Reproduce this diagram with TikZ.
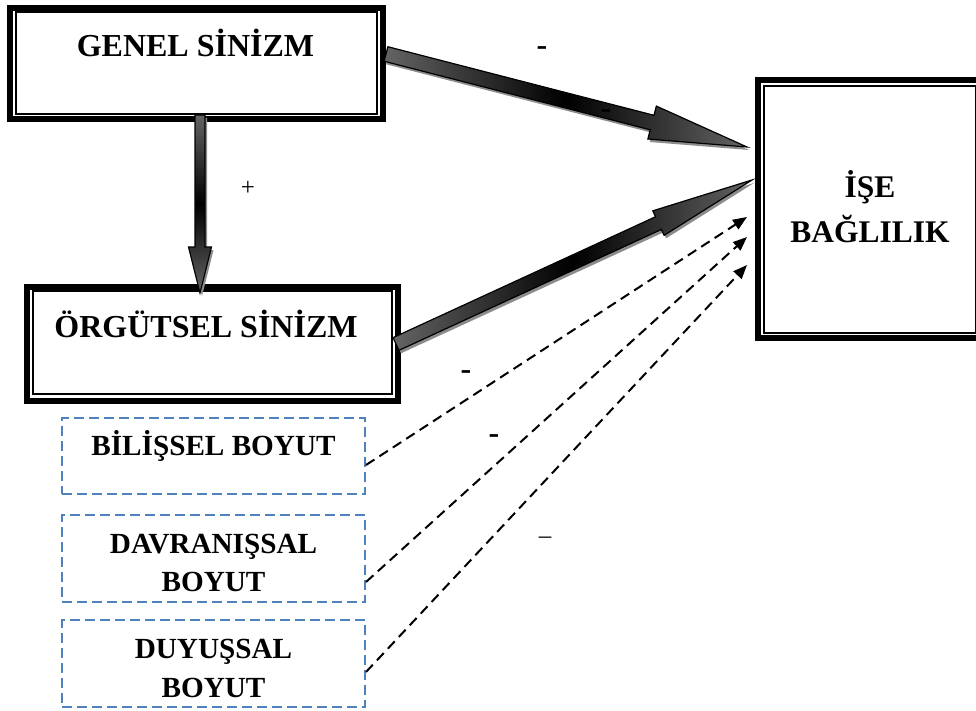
\documentclass[tikz,border=0pt]{standalone}
\usepackage{fontspec}
\setmainfont{Liberation Serif}
\usetikzlibrary{calc,arrows.meta}
\definecolor{dimblue}{RGB}{79,129,189}
\definecolor{arrowgray}{RGB}{100,100,100}
\definecolor{shadowgray}{RGB}{140,140,140}
% block arrow: #1 start, #2 tip, #3 shaft half width, #4 head half width, #5 head length, #6 fill options
\newcommand{\blkarrow}[6]{%
  \coordinate (#1-H) at ($(#2)!#5!(#1)$);
  \fill[shadowgray, transform canvas={shift={(2pt,-3pt)}}]
    ($(#1)!#3!90:(#2)$) -- ($(#1-H)!#3!90:(#2)$) -- ($(#1-H)!#4!90:(#2)$) -- (#2)
    -- ($(#1-H)!#4!-90:(#2)$) -- ($(#1-H)!#3!-90:(#2)$) -- ($(#1)!#3!-90:(#2)$) -- cycle;
  \draw[draw=black, line width=1.2pt, line join=miter, #6]
    ($(#1)!#3!90:(#2)$) -- ($(#1-H)!#3!90:(#2)$) -- ($(#1-H)!#4!90:(#2)$) -- (#2)
    -- ($(#1-H)!#4!-90:(#2)$) -- ($(#1-H)!#3!-90:(#2)$) -- ($(#1)!#3!-90:(#2)$) -- cycle;
}
\begin{document}
\begin{tikzpicture}[x=1pt,y=-1pt,
  framebox/.style={draw=black, line width=6pt, fill=white, rectangle, inner sep=0pt},
  thinframe/.style={draw=black, line width=2pt},
  dimbox/.style={draw=dimblue, line width=2pt, dash pattern=on 10pt off 5pt, rectangle, inner sep=0pt, minimum width=303pt},
  title/.style={font=\fontsize{32}{38}\selectfont\bfseries, inner sep=0pt, anchor=base},
  isetext/.style={font=\fontsize{31.5}{38}\selectfont\bfseries, inner sep=0pt, anchor=base},
  dimtext/.style={font=\fontsize{29.2}{34}\selectfont\bfseries, inner sep=0pt, anchor=base},
  sign/.style={font=\fontsize{32}{38}\selectfont\bfseries, inner sep=0pt, anchor=base},
  thinsign/.style={font=\fontsize{25}{30}\selectfont, inner sep=0pt, anchor=base},
  dasharrow/.style={draw=black, line width=2pt, dash pattern=on 10pt off 6pt, -{Triangle[length=14pt,width=11pt]}},
]
\useasboundingbox (0,0) rectangle (976,711);
\fill[white] (0,0) rectangle (976,711);

% main boxes
\node[framebox, minimum width=372.7pt, minimum height=111pt] (genel) at (196.65,63.2) {};
\draw[thinframe] ($(genel.north west)+(8.3,7.5)$) rectangle ($(genel.south east)+(-9,-7.5)$);
\node[title] (genelt) at (195.5,57) {GENEL SİNİZM};

\node[framebox, minimum width=371pt, minimum height=114.1pt] (orgut) at (212.8,343.75) {};
\draw[thinframe] ($(orgut.north west)+(8.3,7.5)$) rectangle ($(orgut.south east)+(-9,-9.5)$);
\node[title] (orgutt) at (206,337) {ÖRGÜTSEL SİNİZM};

\node[framebox, minimum width=223.7pt, minimum height=258.3pt] (ise) at (870.15,209.15) {};
\draw[thinframe] ($(ise.north west)+(9,9)$) rectangle ($(ise.south east)+(-9,-8.5)$);
\node[isetext] (ise1) at (870,198) {İŞE};
\node[isetext] (ise2) at (870,243) {BAĞLILIK};

% dimension boxes
\node[dimbox, minimum height=76pt] (bil) at (213.5,456.3) {};
\node[dimtext] (bilt) at (213.5,455) {BİLİŞSEL BOYUT};
\node[dimbox, minimum height=86.7pt] (dav) at (213.5,558.3) {};
\node[dimtext] (dav1) at (213.5,553) {DAVRANIŞSAL};
\node[dimtext] (dav2) at (213.5,591) {BOYUT};
\node[dimbox, minimum height=86.7pt] (duy) at (213.5,663.7) {};
\node[dimtext] (duy1) at (213.5,658) {DUYUŞSAL};
\node[dimtext] (duy2) at (213.5,697) {BOYUT};

% block arrows
\coordinate (g1) at (386,54);
\coordinate (g2) at (747,147);
\blkarrow{g1}{g2}{7.5pt}{17pt}{98pt}{left color=arrowgray, right color=arrowgray, middle color=black}
\coordinate (v1) at (200,115);
\coordinate (v2) at (200,293);
\blkarrow{v1}{v2}{5pt}{11.5pt}{46pt}{top color=arrowgray, bottom color=arrowgray, middle color=black}
\coordinate (o1) at (396,344);
\coordinate (o2) at (752,180);
\blkarrow{o1}{o2}{7pt}{13.5pt}{103pt}{left color=arrowgray, right color=arrowgray, middle color=black}

% dashed arrows
\coordinate (d1) at (366,465);
\coordinate (d2) at (366,582);
\coordinate (d3) at (366,672);
\coordinate (t1) at (747,217);
\coordinate (t2) at (747,237);
\coordinate (t3) at (747,265);
\draw[dasharrow] (d1) -- (t1);
\draw[dasharrow] (d2) -- (t2);
\draw[dasharrow] (d3) -- (t3);

% signs
\node[sign] (s1) at (542,56) {-};
\node[sign] (s2) at (606,119) {-};
\node[sign] (s3) at (466,379) {-};
\node[sign] (s4) at (494,443) {-};
\node[thinsign] (s5) at (545,543) {\textendash};
\node[thinsign] (s6) at (248,196) {+};
\end{tikzpicture}
\end{document}
